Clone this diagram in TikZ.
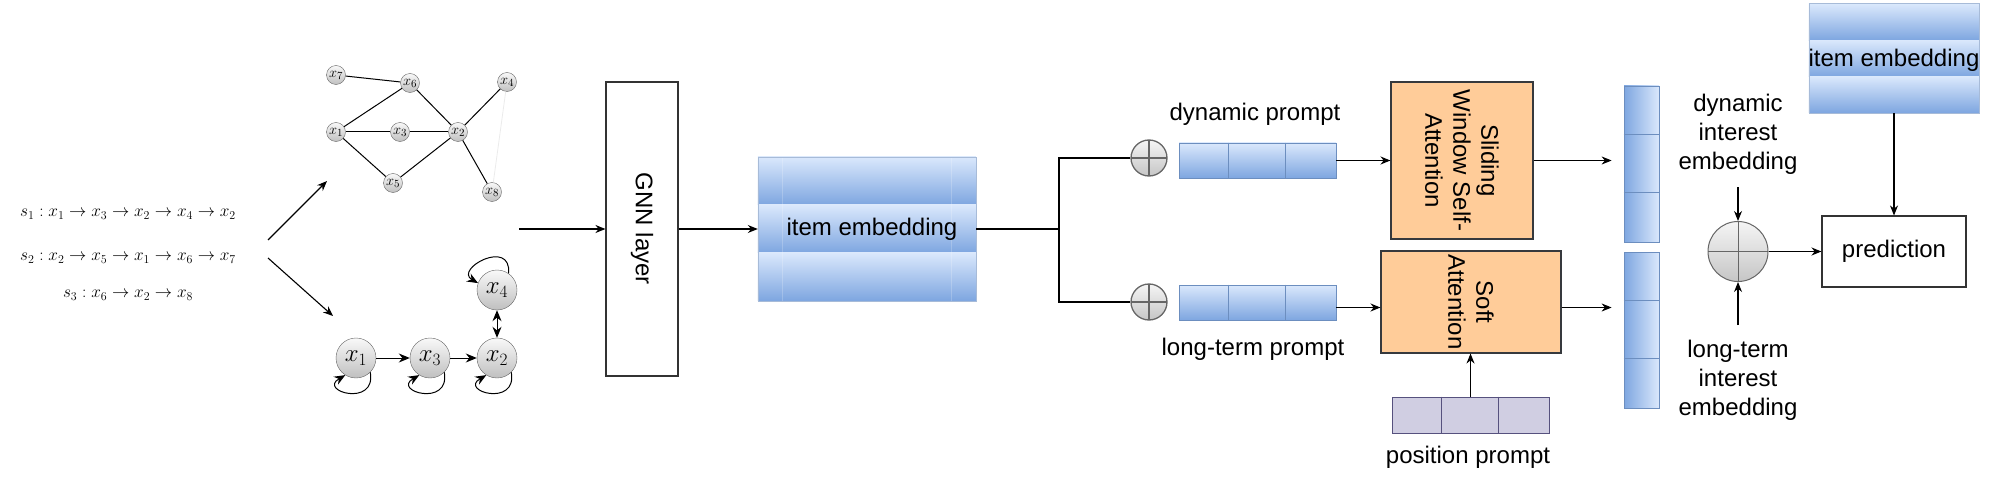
\documentclass[tikz,border=0pt]{standalone}
\usepackage[no-math]{fontspec}
\setmainfont{Liberation Sans}
\usetikzlibrary{arrows.meta,calc}
\definecolor{embTop}{HTML}{DAE8FC}
\definecolor{embBot}{HTML}{7EA6E0}
\definecolor{embLine}{HTML}{6C8EBF}
\definecolor{orangeFill}{HTML}{FFCC99}
\definecolor{orangeLine}{HTML}{36393D}
\definecolor{lavFill}{HTML}{D0CEE2}
\definecolor{lavLine}{HTML}{56517E}
\definecolor{circLine}{HTML}{666666}
\begin{document}
\begin{tikzpicture}[x=1pt,y=1pt,
  lab/.style={font=\fontsize{24}{29}\selectfont, align=center, inner sep=0pt},
  arr/.style={-{Stealth[length=10pt,width=8pt]}, line width=1.1pt},
  ballsmall/.style={circle, draw=gray!80!black, top color=gray!5, bottom color=gray!50, minimum size=19pt, inner sep=0pt, font=\fontsize{15}{15}\selectfont},
  ballbig/.style={circle, draw=gray!80!black, top color=gray!5, bottom color=gray!50, minimum size=40pt, inner sep=0pt, font=\fontsize{24}{24}\selectfont},
  gedge/.style={line width=1pt},
  garr/.style={-{Stealth[length=11pt,width=9pt]}, line width=1pt},
  boxw/.style={draw=black!80, line width=1.1pt, fill=white, inner sep=0pt},
  orangebox/.style={draw=orangeLine, fill=orangeFill, line width=1.1pt, inner sep=0pt},
  oplA/.style={circle, draw=circLine, line width=1.3pt, top color=gray!8, bottom color=gray!45, inner sep=0pt, minimum size=36pt,
    path picture={\draw[circLine, line width=2pt] (path picture bounding box.north) -- (path picture bounding box.south) (path picture bounding box.west) -- (path picture bounding box.east);}},
  oplB/.style={circle, draw=circLine, line width=1pt, top color=gray!8, bottom color=gray!45, inner sep=0pt, minimum size=60pt,
    path picture={\draw[circLine, line width=1pt] (path picture bounding box.north) -- (path picture bounding box.south) (path picture bounding box.west) -- (path picture bounding box.east);}},
  hbar/.style={draw=embLine, top color=embTop, bottom color=embBot, line width=0.8pt, inner sep=0pt},
  vbar/.style={draw=embLine, left color=embBot, right color=embTop, line width=0.8pt, inner sep=0pt},
  pbar/.style={draw=lavLine, fill=lavFill, line width=0.8pt, inner sep=0pt},
]
\useasboundingbox (0,0) rectangle (1999,-492);

% ---- sessions ----
\node (s1) at (128,-214) {\fontsize{17.5}{20}\selectfont $s_1 : x_1 \rightarrow x_3 \rightarrow x_2 \rightarrow x_4 \rightarrow x_2$};
\node (s2) at (128,-258) {\fontsize{17.5}{20}\selectfont $s_2 : x_2 \rightarrow x_5 \rightarrow x_1 \rightarrow x_6 \rightarrow x_7$};
\node (s3) at (128,-295) {\fontsize{17.5}{20}\selectfont $s_3 : x_6 \rightarrow x_2 \rightarrow x_8$};
\coordinate (q1) at (268,-240); \coordinate (q1e) at (327,-181);
\coordinate (q2) at (268,-258); \coordinate (q2e) at (333,-316);
\draw[arr] (q1) -- (q1e);
\draw[arr] (q2) -- (q2e);

% ---- session graph (top) ----
\node[ballsmall] (a7) at (336,-75) {$x_7$};
\node[ballsmall] (a6) at (410,-83) {$x_6$};
\node[ballsmall] (a4) at (507,-82) {$x_4$};
\node[ballsmall] (a1) at (336,-132) {$x_1$};
\node[ballsmall] (a3) at (400,-132) {$x_3$};
\node[ballsmall] (a2) at (458,-132) {$x_2$};
\node[ballsmall] (a5) at (393,-183) {$x_5$};
\node[ballsmall] (a8) at (492,-192) {$x_8$};
\draw[gedge] (a7) -- (a6);
\draw[gedge] (a6) -- (a1);
\draw[gedge] (a6) -- (a2);
\draw[gedge] (a1) -- (a3);
\draw[gedge] (a3) -- (a2);
\draw[gedge] (a1) -- (a5);
\draw[gedge] (a5) -- (a2);
\draw[gedge] (a2) -- (a4);
\draw[gedge] (a2) -- (a8);
\draw[black!8, line width=0.8pt] (a4) -- (a8);

% ---- session graph (bottom) ----
\node[ballbig] (b1) at (356,-358) {$x_1$};
\node[ballbig] (b3) at (430,-358) {$x_3$};
\node[ballbig] (b2) at (497,-358) {$x_2$};
\node[ballbig] (b4) at (497,-290) {$x_4$};
\draw[garr] (b1) -- (b3);
\draw[garr] (b3) -- (b2);
\draw[{Stealth[length=11pt,width=9pt]}-{Stealth[length=11pt,width=9pt]}, line width=1pt] (b4) -- (b2);
\draw[garr] (b1.-45) to[out=-80,in=-150,out distance=36pt,in distance=32pt] (b1.-122);
\draw[garr] (b3.-45) to[out=-80,in=-150,out distance=36pt,in distance=32pt] (b3.-122);
\draw[garr] (b2.-45) to[out=-80,in=-150,out distance=36pt,in distance=32pt] (b2.-122);
\draw[garr] (b4.55) to[out=85,in=150,out distance=36pt,in distance=28pt] (b4.160);

% ---- GNN layer ----
\node[boxw, minimum width=72pt, minimum height=294pt] (gnn) at (642,-229) {};
\node[lab, rotate=-90] (gnnt) at (gnn.center) {GNN layer};
\coordinate (gin) at (519,-229);
\draw[arr] (gin) -- (gnn.west);

% ---- item embedding (middle) ----
\node[minimum width=218pt, minimum height=144pt, inner sep=0pt] (ie) at (867,-229) {};
\foreach \k in {0,1,2}{
  \shade[top color=embTop, bottom color=embBot] ($(ie.north west)+(0,-48*\k)$) rectangle ++(218,-48);
}
\draw[white, opacity=0.2, line width=0.8pt] ($(ie.north west)+(25,0)$) -- ($(ie.south west)+(25,0)$);
\draw[white, opacity=0.2, line width=0.8pt] ($(ie.north west)+(194,0)$) -- ($(ie.south west)+(194,0)$);
\draw[embLine!60, line width=0.6pt] (ie.north west) rectangle (ie.south east);
\node[lab] (iet) at (872,-229) {item embedding};
\draw[arr] (gnn.east) -- (ie.west);

% ---- branch ----
\node[oplA] (c1) at (1149,-158) {};
\node[oplA] (c2) at (1149,-302) {};
\coordinate (br) at (1059,-229);
\draw[line width=2pt] (ie.east) -- (br);
\draw[line width=1.1pt] (c1.west) -| (br) |- (c2.west);

% ---- prompts ----
\node[hbar, minimum width=157pt, minimum height=35pt] (dp) at (1257.5,-160.5) {};
\node[hbar, minimum width=157pt, minimum height=35pt] (lp) at (1257.5,-302.5) {};
\foreach \n in {dp,lp}{
  \draw[embLine, line width=0.8pt] ($(\n.north west)+(50,0)$) -- ($(\n.south west)+(50,0)$);
  \draw[embLine, line width=0.8pt] ($(\n.north west)+(107,0)$) -- ($(\n.south west)+(107,0)$);
}
\node[lab] (dpl) at (1255,-114) {dynamic prompt};
\node[lab] (lpl) at (1253,-349) {long-term prompt};

% ---- attention boxes ----
\node[orangebox, minimum width=142pt, minimum height=157pt] (sw) at (1462,-160.5) {};
\node[lab, rotate=-90, font=\fontsize{24}{28}\selectfont] (swt) at (sw.center) {Sliding\\Window Self-\\Attention};
\node[orangebox, minimum width=180pt, minimum height=102pt] (soft) at (1471,-302) {};
\node[lab, rotate=-90, font=\fontsize{24}{28}\selectfont] (softt) at (soft.center) {Soft\\Attention};
\draw[arr] (dp.east) -- (dp.east -| sw.west);
\draw[arr] ([yshift=-5pt]lp.east) -- ([yshift=-5pt]lp.east -| soft.west);

% ---- position prompt ----
\node[pbar, minimum width=157pt, minimum height=36pt] (pp) at (1470.5,-415) {};
\draw[lavLine, line width=0.8pt] ($(pp.north west)+(50,0)$) -- ($(pp.south west)+(50,0)$);
\draw[lavLine, line width=0.8pt] ($(pp.north west)+(107,0)$) -- ($(pp.south west)+(107,0)$);
\node[lab] (ppl) at (1468,-457) {position prompt};
\draw[arr] (pp.north) -- (pp.north |- soft.south);

% ---- interest vectors ----
\node[vbar, minimum width=35pt, minimum height=156pt] (vb1) at (1641.5,-164) {};
\node[vbar, minimum width=35pt, minimum height=156pt] (vb2) at (1641.5,-330) {};
\foreach \n in {vb1,vb2}{
  \draw[embLine, line width=0.8pt] ($(\n.north west)+(0,-49)$) -- ($(\n.north east)+(0,-49)$);
  \draw[embLine, line width=0.8pt] ($(\n.north west)+(0,-107)$) -- ($(\n.north east)+(0,-107)$);
}
\draw[arr, shorten >=12pt] (sw.east) -- (sw.east -| vb1.west);
\draw[arr, shorten >=12pt] ([yshift=-5.5pt]soft.east) -- ([yshift=-5.5pt]soft.east -| vb2.west);

% ---- fusion and prediction ----
\node[lab] (dil) at (1738,-134) {dynamic\\interest\\embedding};
\node[lab] (lil) at (1738,-380) {long-term\\interest\\embedding};
\node[oplB] (c3) at (1738,-251.5) {};
\coordinate (c3a) at (1738,-187);
\coordinate (c3b) at (1738,-325);
\draw[arr] (c3a) -- (c3.north);
\draw[arr] (c3b) -- (c3.south);
\node[boxw, minimum width=144pt, minimum height=71pt] (pred) at (1894,-251.5) {};
\node[lab] (predt) at (pred.center) {prediction};
\draw[arr] (c3.east) -- (pred.west);

% ---- item embedding (top right) ----
\node[minimum width=170pt, minimum height=109pt, inner sep=0pt] (ie2) at (1894,-58.5) {};
\foreach \k in {0,1,2}{
  \shade[top color=embTop, bottom color=embBot] ($(ie2.north west)+(0,-36.333*\k)$) rectangle ++(170,-36.333);
}
\draw[embLine!60, line width=0.6pt] (ie2.north west) rectangle (ie2.south east);
\node[lab] (ie2t) at (1894,-60) {item embedding};
\draw[arr] (ie2.south) -- (pred.north);
\end{tikzpicture}
\end{document}
